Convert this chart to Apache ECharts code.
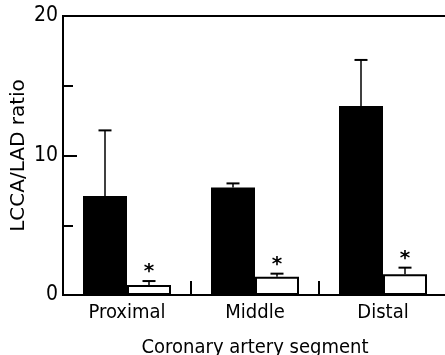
<!DOCTYPE html>
<html><head><meta charset="utf-8">
<script src="https://cdn.jsdelivr.net/npm/echarts@6/dist/echarts.min.js"></script>
<style>html,body{margin:0;padding:0;background:#fff}#c{width:445px;height:355px}</style>
</head><body><div id="c"></div>
<script>
var categories = ['Proximal', 'Middle', 'Distal'];
var blackMeans = [7.1, 7.7, 13.55];
var blackErrHigh = [11.8, 8.0, 16.85];
var whiteMeans = [0.72, 1.31, 1.48];
var whiteErrHigh = [1.0, 1.53, 1.96];
var significant = [true, true, true];
var yTickLabels = ['0', '10', '20'];

var FONT = 'DejaVu Sans Condensed';
var BW = 44;
var chart = echarts.init(document.getElementById('c'), null, {renderer: 'canvas'});

function errSeries(high, means, offset, star) {
  return {
    type: 'custom',
    z: 5,
    data: categories.map(function (c, i) { return [i, means[i], high[i], star ? (significant[i] ? 1 : 0) : 0]; }),
    renderItem: function (params, api) {
      var lo = api.coord([api.value(0), api.value(1)]);
      var hi = api.coord([api.value(0), api.value(2)]);
      var x = lo[0] + offset;
      var children = [
        {type: 'line', shape: {x1: x, y1: lo[1], x2: x, y2: hi[1]}, style: {stroke: '#000', lineWidth: 1.5}},
        {type: 'line', shape: {x1: x - 6.5, y1: hi[1], x2: x + 6.5, y2: hi[1]}, style: {stroke: '#000', lineWidth: 2}}
      ];
      if (api.value(3)) {
        children.push({type: 'text', x: x, y: hi[1] - 9,
          style: {text: '*', fontFamily: 'DejaVu Sans', fontSize: 20, fontWeight: 'bold', fill: '#000', align: 'center', verticalAlign: 'middle'}});
      }
      return {type: 'group', children: children};
    }
  };
}

chart.setOption({
  animation: false,
  backgroundColor: '#fff',
  grid: {left: 63, width: 384, top: 16, bottom: 60, outerBoundsMode: 'none', containLabel: false,
    show: true, borderColor: '#000', borderWidth: 2, backgroundColor: 'transparent'},
  xAxis: {
    type: 'category',
    data: categories,
    name: 'Coronary artery segment',
    nameLocation: 'middle',
    nameGap: 43,
    nameMoveOverlap: false,
    nameTextStyle: {fontFamily: FONT, fontSize: 20, color: '#000'},
    axisLine: {lineStyle: {color: '#000', width: 2}},
    axisTick: {show: true, inside: true, length: 14, lineStyle: {color: '#000', width: 2}},
    axisLabel: {fontFamily: FONT, fontSize: 20, color: '#000', margin: 8},
    splitLine: {show: false}
  },
  yAxis: {
    type: 'value',
    min: 0, max: 20, interval: 10,
    name: 'LCCA/LAD ratio',
    nameLocation: 'middle',
    nameGap: 34,
    nameMoveOverlap: false,
    nameTextStyle: {fontFamily: 'DejaVu Sans', fontSize: 20, color: '#000'},
    axisLine: {show: true, lineStyle: {color: '#000', width: 2}},
    axisTick: {show: true, inside: true, length: 14, lineStyle: {color: '#000', width: 2}},
    minorTick: {show: true, splitNumber: 2, length: 10, lineStyle: {color: '#000', width: 2}},
    axisLabel: {fontFamily: FONT, fontSize: 21, color: '#000', margin: 5,
      formatter: function (v) { var i = [0, 10, 20].indexOf(v); return i >= 0 ? yTickLabels[i] : ''; }},
    splitLine: {show: false}
  },
  series: [
    {type: 'bar', data: blackMeans, barWidth: BW, barGap: '0%',
      itemStyle: {color: '#000', borderColor: '#000', borderWidth: 0}},
    {type: 'bar', data: whiteMeans, barWidth: BW, barGap: '0%',
      itemStyle: {color: '#fff', borderColor: '#000', borderWidth: 2}},
    errSeries(blackErrHigh, blackMeans, -BW / 2, false),
    errSeries(whiteErrHigh, whiteMeans, BW / 2, true)
  ]
});
</script></body></html>
